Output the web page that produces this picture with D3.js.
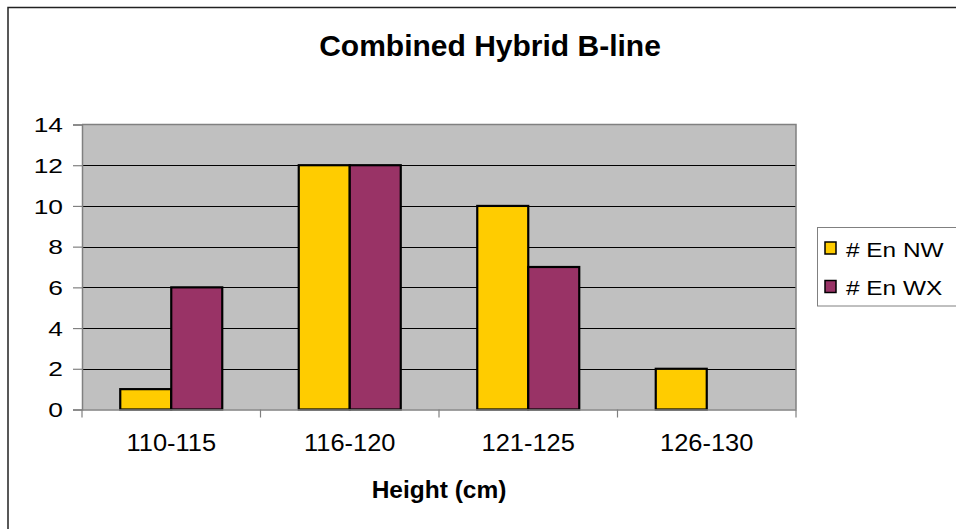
<!DOCTYPE html>
<html>
<head>
<meta charset="utf-8">
<script src="https://cdn.jsdelivr.net/npm/d3@7"></script>
<style>
  html, body { margin: 0; padding: 0; background: #fff; }
  svg { display: block; }
  text { font-family: "Liberation Sans", Arial, sans-serif; fill: #000; }
</style>
</head>
<body>
<svg id="chart" width="956" height="529"></svg>
<script>
// Height classes and counts per line
const categories = ["110-115", "116-120", "121-125", "126-130"];
const seriesNames = ["# En NW", "# En WX"];
const enNW = [1, 12, 10, 2];
const enWX = [6, 12, 7, 0];
const yTicks = [0, 2, 4, 6, 8, 10, 12, 14];
const colors = ["#FFCC00", "#993366"];

const svg = d3.select("#chart");

// outer chart frame (runs off the right and bottom edges)
svg.append("rect")
  .attr("x", 8).attr("y", 7.5)
  .attr("width", 1000).attr("height", 600)
  .attr("fill", "#fff").attr("stroke", "#222").attr("stroke-width", 1.5);

const plot = { left: 82, right: 796, top: 124.5, bottom: 409.5 };

const x = d3.scaleBand()
  .domain(categories)
  .range([plot.left, plot.right])
  .paddingInner(0).paddingOuter(0);

// two bars per class, with a 150% bar-width gap split either side
const inner = d3.scaleBand()
  .domain(seriesNames)
  .range([0, x.bandwidth()])
  .paddingOuter(0.75)
  .paddingInner(0);

const y = d3.scaleLinear().domain([0, 14]).range([plot.bottom, plot.top]);

// plot background
svg.append("rect")
  .attr("x", plot.left).attr("y", plot.top)
  .attr("width", plot.right - plot.left).attr("height", plot.bottom - plot.top)
  .attr("fill", "#C0C0C0");

// horizontal gridlines
svg.append("g")
  .selectAll("line")
  .data(yTicks.filter(d => d > 0 && d < 14))
  .join("line")
  .attr("x1", plot.left).attr("x2", plot.right)
  .attr("y1", d => Math.round(y(d)) + 0.5).attr("y2", d => Math.round(y(d)) + 0.5)
  .attr("stroke", "#000").attr("stroke-width", 1);

// plot frame (top / right)
svg.append("path")
  .attr("d", `M${plot.left},${plot.top}H${plot.right}V${plot.bottom}`)
  .attr("fill", "none").attr("stroke", "#808080").attr("stroke-width", 1.5);

// bars
const rows = categories.map((c, i) => ({ cat: c, vals: [enNW[i], enWX[i]] }));
const groups = svg.append("g").selectAll("g")
  .data(rows)
  .join("g")
  .attr("transform", d => `translate(${x(d.cat)},0)`);

groups.selectAll("rect")
  .data(d => d.vals.map((v, k) => ({ name: seriesNames[k], v, k })).filter(e => e.v > 0))
  .join("rect")
  .attr("x", d => inner(d.name))
  .attr("y", d => y(d.v))
  .attr("width", inner.bandwidth())
  .attr("height", d => y(0) - y(d.v))
  .attr("fill", d => colors[d.k])
  .attr("stroke", "#000").attr("stroke-width", 2.2);

// y axis
const yAxis = svg.append("g")
  .attr("transform", `translate(${plot.left},0)`)
  .call(d3.axisLeft(y).tickValues(yTicks).tickSize(9).tickPadding(0).tickFormat(d3.format("d")));
yAxis.select(".domain").attr("stroke", "#808080").attr("stroke-width", 1.5);
yAxis.selectAll(".tick line").attr("stroke", "#808080").attr("stroke-width", 1.2);
yAxis.selectAll(".tick text")
  .attr("x", null).attr("dy", null)
  .attr("font-size", 20)
  .attr("text-anchor", "end")
  .attr("transform", "translate(-19,7.2) scale(1.32,1)");

// x axis with ticks at category boundaries
const xAxis = svg.append("g")
  .attr("transform", `translate(0,${plot.bottom})`)
  .call(d3.axisBottom(x).tickSize(0).tickPadding(0));
xAxis.select(".domain").attr("stroke", "#808080").attr("stroke-width", 1.5);
xAxis.selectAll(".tick text")
  .attr("y", null).attr("dy", null)
  .attr("font-size", 24)
  .attr("transform", "translate(0,41) scale(1.06,1)");
xAxis.append("g").selectAll("line")
  .data(categories.map(c => x(c)).concat([plot.right]))
  .join("line")
  .attr("x1", d => d).attr("x2", d => d)
  .attr("y1", 0).attr("y2", 8)
  .attr("stroke", "#808080").attr("stroke-width", 1.2);

// title
svg.append("text")
  .attr("x", 490).attr("y", 56)
  .attr("text-anchor", "middle")
  .attr("font-size", 30).attr("font-weight", "bold")
  .text("Combined Hybrid B-line");

// x axis title
svg.append("text")
  .attr("x", plot.left + (plot.right - plot.left) / 2).attr("y", 497.5)
  .attr("text-anchor", "middle")
  .attr("font-size", 24.5).attr("font-weight", "bold")
  .text("Height (cm)");

// legend
const legend = svg.append("g");
legend.append("rect")
  .attr("x", 817.5).attr("y", 227.5).attr("width", 160).attr("height", 78.5)
  .attr("fill", "#fff").attr("stroke", "#808080").attr("stroke-width", 1);
const items = legend.selectAll("g.item")
  .data(seriesNames)
  .join("g")
  .attr("class", "item")
  .attr("transform", (d, i) => `translate(825,${242 + i * 38.5})`);
items.append("rect")
  .attr("width", 11).attr("height", 12)
  .attr("fill", (d, i) => colors[i])
  .attr("stroke", "#000").attr("stroke-width", 1.5);
items.append("text")
  .attr("transform", "translate(21,14.5) scale(1.22,1)")
  .attr("font-size", 20)
  .text(d => d);
</script>
</body>
</html>
